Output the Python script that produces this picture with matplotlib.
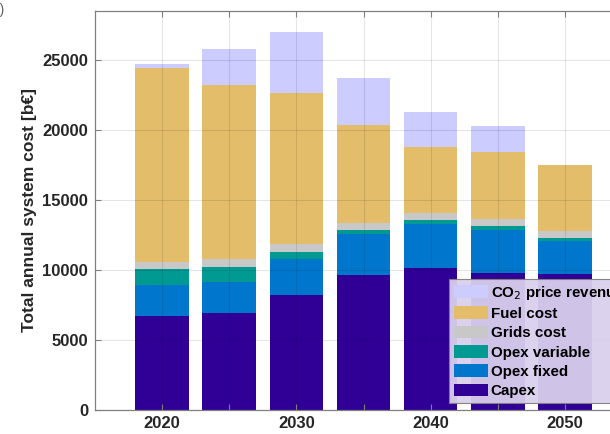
import numpy as np
import matplotlib.pyplot as plt

plt.rcParams['font.family'] = ['Liberation Sans', 'DejaVu Sans']

years = [2020, 2025, 2030, 2035, 2040, 2045, 2050]
year_labels = ['2020', '', '2030', '', '2040', '', '2050']

# stacked components, bottom to top [b€]
capex = [6690, 6910, 8180, 9590, 10110, 9750, 9700]
opex_fixed = [2215, 2220, 2570, 2970, 3190, 3120, 2340]
opex_var = [1140, 1070, 480, 260, 240, 240, 230]
grids = [520, 530, 590, 550, 480, 500, 480]
fuel = [13840, 12450, 10790, 6950, 4740, 4790, 4710]
co2_rev = [330, 2570, 4400, 3380, 2500, 1860, 0]

labels = ['Capex', 'Opex fixed', 'Opex variable', 'Grids cost', 'Fuel cost',
          'CO$_2$ price revenue']
colors = ['#300096', '#0077cc', '#009a93', '#c8c8c8', '#e3bd69', '#ccccff']

fig = plt.figure(figsize=(6.10, 4.34), dpi=100)
ax = fig.add_axes([95/610, 24.5/434, 537/610, 398.5/434])

series = [capex, opex_fixed, opex_var, grids, fuel, co2_rev]
x = np.arange(len(years))
bottom = np.zeros(len(years))
handles = []
for vals, lab, col in zip(series, labels, colors):
    b = ax.bar(x, vals, 0.8, bottom=bottom, color=col, linewidth=0, label=lab, zorder=1)
    handles.append(b)
    bottom += np.array(vals)

ax.set_xlim(-1, len(years))
ax.set_ylim(0, 28500)
ax.set_xticks(x)
ax.set_xticklabels(year_labels)
ax.set_yticks([0, 5000, 10000, 15000, 20000, 25000])
ax.tick_params(direction='in', length=4, width=0.8, colors='#808080',
               labelcolor='#262626', labelsize=12, top=True, right=True, pad=5)
for t in ax.get_xticklabels() + ax.get_yticklabels():
    t.set_fontweight('bold')
ax.grid(True, color='#000000', alpha=0.1, linewidth=0.8, zorder=3)
ax.set_axisbelow(False)
for s in ax.spines.values():
    s.set_color('#808080')
    s.set_linewidth(0.9)

ax.set_ylabel('Total annual system cost [b€]', fontsize=12.5, fontweight='bold',
              color='#262626', labelpad=4)

leg = ax.legend(handles[::-1], labels[::-1], loc='upper left',
                bbox_to_anchor=(449/610, 1 - 279/434), bbox_transform=fig.transFigure,
                frameon=True, fancybox=False, borderaxespad=0,
                borderpad=0.3, labelspacing=0.32, handlelength=2.3, handleheight=0.9,
                handletextpad=0.15, prop={'weight': 'bold', 'size': 10.9})
leg.get_frame().set_facecolor('#d9d0ec')
leg.get_frame().set_alpha(0.95)
leg.get_frame().set_edgecolor('#808080')
leg.get_frame().set_linewidth(0.8)
leg.set_zorder(5)

fig.text(0.007, 0.992, 'b)', ha='right', va='top', fontsize=10, color='#606060')

fig.savefig('out.png', dpi=100)
